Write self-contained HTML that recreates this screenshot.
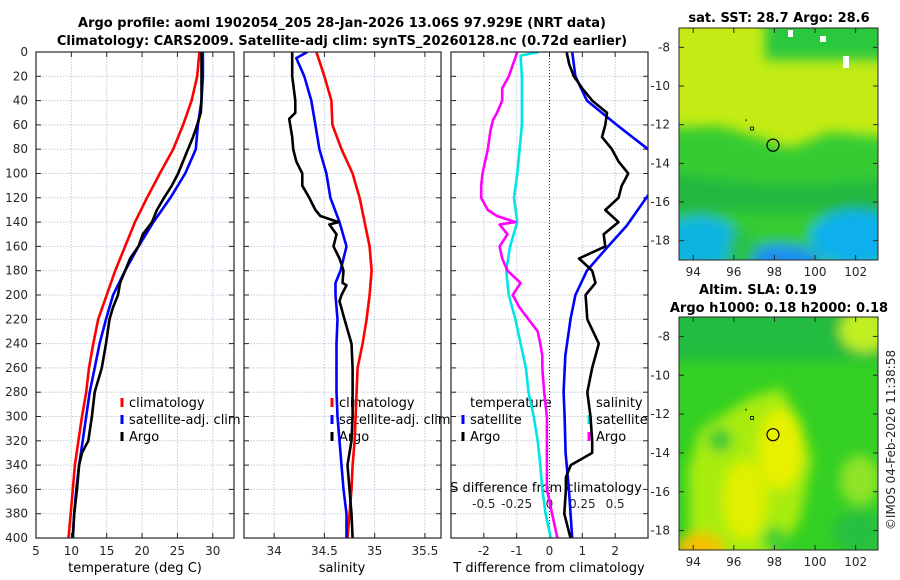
<!DOCTYPE html>
<html><head><meta charset="utf-8">
<style>
html,body{margin:0;padding:0;background:#fff;}
svg{display:block;font-family:"DejaVu Sans","Liberation Sans",sans-serif;}
.t{font-size:12px;fill:#262626;}
.ti{font-size:13px;font-weight:bold;fill:#000;}
.lg{font-size:13px;fill:#000;}
</style></head>
<body>
<svg id="s" width="900" height="580" viewBox="0 0 900 580" xmlns="http://www.w3.org/2000/svg">
<defs>
<clipPath id="c1"><rect x="36" y="52" width="198" height="486"/></clipPath>
<clipPath id="c2"><rect x="244" y="52" width="197" height="486"/></clipPath>
<clipPath id="c3"><rect x="451" y="52" width="197" height="486"/></clipPath>
<clipPath id="cm1"><rect x="679" y="28" width="199" height="232"/></clipPath>
<clipPath id="cm2"><rect x="679" y="317" width="199" height="233"/></clipPath>
<filter id="bl" filterUnits="userSpaceOnUse" x="600" y="0" width="300" height="580"><feGaussianBlur stdDeviation="6"/></filter>
</defs>
<text class="ti" x="342" y="27" text-anchor="middle">Argo profile: aoml 1902054_205 28-Jan-2026 13.06S 97.929E (NRT data)</text>
<text class="ti" x="342" y="45" text-anchor="middle">Climatology: CARS2009. Satellite-adj clim: synTS_20260128.nc (0.72d earlier)</text>

<!-- SST map -->
<g>
<rect x="679" y="28" width="199" height="232" fill="#c4ec14"/>
<g clip-path="url(#cm1)">
<g filter="url(#bl)">
<rect x="765" y="15" width="130" height="45" fill="#2cc83c"/>
<path d="M660 128 L720 126 L760 138 L790 148 L830 132 L895 138 L895 275 L660 275 Z" fill="#34cc30"/>
<path d="M660 172 L740 182 L800 186 L895 178 L895 212 L660 212 Z" fill="#22b840"/>
<ellipse cx="700" cy="242" rx="40" ry="26" fill="#10b4e0"/>
<ellipse cx="855" cy="238" rx="45" ry="28" fill="#10b0ec"/>
<ellipse cx="780" cy="262" rx="40" ry="18" fill="#1a90f0"/>
<ellipse cx="742" cy="250" rx="14" ry="22" fill="#2cc048"/>
</g>
</g>
<rect x="788" y="30" width="5" height="7" fill="#fff"/><rect x="820" y="36" width="6" height="6" fill="#fff"/><rect x="843" y="56" width="6" height="12" fill="#fff"/>
<rect x="679" y="28" width="199" height="232" fill="none" stroke="#262626" stroke-width="1"/>
</g>
<text class="ti" x="779" y="22" text-anchor="middle">sat. SST: 28.7 Argo: 28.6</text>

<!-- SLA map -->
<g>
<rect x="679" y="317" width="199" height="233" fill="#34d024"/>
<g clip-path="url(#cm2)">
<g filter="url(#bl)">
<rect x="660" y="300" width="240" height="60" fill="#22bc40"/>
<ellipse cx="865" cy="330" rx="25" ry="22" fill="#c0f020"/>
<path d="M700 430 L750 398 L780 388 L800 420 L812 460 L800 520 L770 565 L690 565 L688 470 Z" fill="#a8ec10"/>
<ellipse cx="780" cy="450" rx="22" ry="40" fill="#e8f000"/>
<ellipse cx="745" cy="500" rx="22" ry="40" fill="#e0f000"/>
<ellipse cx="720" cy="440" rx="12" ry="12" fill="#30c830"/>
<ellipse cx="700" cy="548" rx="24" ry="15" fill="#f4c000"/>
<ellipse cx="860" cy="480" rx="20" ry="25" fill="#90e428"/>
<ellipse cx="860" cy="532" rx="28" ry="22" fill="#28c040"/>
<ellipse cx="775" cy="540" rx="12" ry="14" fill="#40d030"/>
</g>
</g>
<rect x="679" y="317" width="199" height="233" fill="none" stroke="#262626" stroke-width="1"/>
</g>
<text class="ti" x="758" y="294" text-anchor="middle">Altim. SLA: 0.19</text>
<text class="ti" x="779" y="312" text-anchor="middle">Argo h1000: 0.18 h2000: 0.18</text>
<text class="t" transform="translate(895,440) rotate(-90)" text-anchor="middle">©IMOS 04-Feb-2026 11:38:58</text>
</svg>
<script>
// ---------- data ----------
const depthTicks = [0,20,40,60,80,100,120,140,160,180,200,220,240,260,280,300,320,340,360,380,400];
const tempTicks = [5,10,15,20,25,30];
const salTicks = [34,34.5,35,35.5];
const tdiffTicks = [-2,-1,0,1,2];
const sdiffTicks = [-0.5,-0.25,0,0.25,0.5];
const sdiffTickLabels = ["-0.5","-0.25","0","0.25","0.5"];

const climDepths = [0,20,40,60,80,100,120,140,160,180,200,220,240,260,280,300,320,340,360,380,400];
const tempClim = [28.1,27.8,27.0,25.8,24.4,22.5,20.7,19.0,17.6,16.2,15.0,13.8,13.1,12.5,12.1,11.5,11.0,10.5,10.2,9.9,9.6];
const tempSat = [28.6,28.6,28.4,27.9,27.6,26.1,24.0,21.6,19.5,17.6,15.9,14.9,14.0,13.3,12.6,12.1,11.6,11.1,10.7,10.4,10.2];
const argoTempDepths = [0,20,40,50,60,70,80,100,110,120,130,140,150,160,170,180,190,200,210,220,240,260,270,280,300,320,330,340,360,380,400];
const argoTemp = [28.4,28.4,28.4,28.3,27.8,27.2,26.5,25.1,24.2,23.1,22.1,21.4,20.1,19.5,18.3,17.6,16.9,16.6,15.9,15.4,14.9,14.3,13.8,13.3,12.9,12.4,11.5,11.1,10.8,10.4,10.2];

const salClim = [34.42,34.50,34.57,34.58,34.67,34.78,34.85,34.90,34.95,34.97,34.95,34.92,34.88,34.83,34.82,34.81,34.80,34.78,34.77,34.75,34.73];
const salSatDepths = [0,5,20,40,60,80,100,120,140,160,180,190,200,220,240,260,280,300,320,340,360,380,400];
const salSat = [34.33,34.22,34.30,34.37,34.41,34.45,34.52,34.56,34.65,34.72,34.66,34.61,34.61,34.63,34.62,34.62,34.62,34.63,34.65,34.67,34.69,34.72,34.72];
const argoSalDepths = [0,20,40,50,55,70,80,90,100,110,120,130,135,140,142,150,160,170,180,190,192,200,205,220,240,260,280,300,320,340,360,380,400];
const argoSal = [34.18,34.18,34.21,34.21,34.15,34.18,34.19,34.22,34.28,34.28,34.35,34.41,34.46,34.64,34.55,34.62,34.59,34.65,34.69,34.68,34.72,34.67,34.65,34.70,34.77,34.78,34.78,34.78,34.77,34.73,34.75,34.77,34.78];

const tdiffSatDepths = [0,20,40,60,80,90,100,110,118,143,161,180,200,220,250,280,300,330,360,400];
const tdiffSat = [0.69,0.79,1.14,2.05,3.0,3.5,3.6,3.3,3.0,2.35,1.75,1.14,0.79,0.64,0.48,0.43,0.46,0.49,0.59,0.69];
const tdiffArgoDepths = [0,10,20,30,40,50,60,70,80,90,100,110,120,130,140,150,160,170,180,190,200,220,240,260,280,300,320,330,340,350,360,380,400];
const tdiffArgo = [0.52,0.6,0.74,1.0,1.3,1.75,1.7,1.6,1.9,2.1,2.4,2.2,2.1,1.7,2.1,1.65,1.7,0.9,1.3,1.4,1.1,1.15,1.5,1.3,1.15,1.25,1.3,1.3,0.65,0.5,0.5,0.45,0.64];
const sdiffSatDepths = [0,3,20,60,100,120,140,160,180,200,220,240,260,280,300,320,340,360,380,400];
const sdiffSat = [-0.08,-0.22,-0.21,-0.21,-0.245,-0.27,-0.245,-0.30,-0.33,-0.31,-0.26,-0.22,-0.18,-0.16,-0.12,-0.09,-0.07,-0.055,-0.03,0.01];
const sdiffArgoDepths = [0,20,30,40,50,56,65,80,100,110,120,130,135,140,142,150,160,170,180,190,200,210,220,230,240,250,260,280,300,320,340,360,380,400];
const sdiffArgo = [-0.245,-0.31,-0.36,-0.36,-0.40,-0.43,-0.45,-0.47,-0.51,-0.52,-0.52,-0.47,-0.40,-0.26,-0.38,-0.32,-0.38,-0.36,-0.32,-0.22,-0.28,-0.23,-0.16,-0.09,-0.07,-0.055,-0.055,-0.04,-0.02,-0.02,-0.02,-0.02,0.02,0.06];

const latTicks = [-8,-10,-12,-14,-16,-18];
const lonTicks = [94,96,98,100,102];
const argoLon = 97.929, argoLat = -13.06;

// ---------- helpers ----------
const NS = "http://www.w3.org/2000/svg";
const svg = document.getElementById('s');
function mk(tag, attrs, parent){ const e=document.createElementNS(NS,tag); for(const k in attrs) e.setAttribute(k,attrs[k]); (parent||svg).appendChild(e); return e; }
const Y0=52, Y1=538;
const yS = d => Y0 + (d/400)*(Y1-Y0);
function lin(d0,d1,r0,r1){ return v => r0 + (v-d0)/(d1-d0)*(r1-r0); }
const P = {
  p1:{x0:36,x1:234},
  p2:{x0:244,x1:441},
  p3:{x0:451,x1:648}
};
const xT = lin(5,33,36,234), xS = lin(33.7,35.66,244,441), xTd = lin(-3,3,451,648), xSd = lin(-0.75,0.75,451,648);

function panel(p, name, xticks, xscale, ylabels){
  const g = mk('g',{});
  
  
  depthTicks.forEach(d=>{
    const y=yS(d);
    const gl = mk('line',{x1:p.x0,x2:p.x1,y1:y,y2:y,stroke:'#c4c8dc','stroke-width':1,'stroke-dasharray':'1.5,1.5'},g);
    
    
    mk('line',{x1:p.x0,x2:p.x0+5,y1:y,y2:y,stroke:'#262626'},g);
    mk('line',{x1:p.x1-5,x2:p.x1,y1:y,y2:y,stroke:'#262626'},g);
    if(ylabels){ const t=mk('text',{x:28,y:y+4,'text-anchor':'end','class':'t'},g); t.textContent=d;
        }
  });
  xticks.forEach(v=>{
    const x=xscale(v);
    const gl = mk('line',{x1:x,x2:x,y1:Y0,y2:Y1,stroke:'#c4c8dc','stroke-width':1,'stroke-dasharray':'1.5,1.5'},g);
    
    
    mk('line',{x1:x,x2:x,y1:Y1-5,y2:Y1,stroke:'#262626'},g);
    mk('line',{x1:x,x2:x,y1:Y0,y2:Y0+5,stroke:'#262626'},g);
    const t=mk('text',{x:x,y:555,'text-anchor':'middle','class':'t'},g); t.textContent=v;
     
  });
  return g;
}
function line(depths, vals, xs, color, clip, name, w){
  const d = depths.map((z,i)=>(i?'L':'M')+xs(vals[i]).toFixed(1)+' '+yS(z).toFixed(1)).join(' ');
  const e = mk('path',{d:d,fill:'none',stroke:color,'stroke-width':w||2.6,'stroke-linejoin':'round','clip-path':'url(#'+clip+')'});
  
  
}
function legend(x,y,color,label,name){
  mk('line',{x1:x,x2:x,y1:y-9,y2:y,stroke:color,'stroke-width':3});
  const t=mk('text',{x:x+7,y:y,'class':'lg'}); t.textContent=label;
  
  
}
function frame(p){ mk('rect',{x:p.x0,y:Y0,width:p.x1-p.x0,height:Y1-Y0,fill:'none',stroke:'#262626','stroke-width':1.2}); }
function axlabel(x,y,txt,name){ const t=mk('text',{x:x,y:y,'text-anchor':'middle','class':'lg'}); t.textContent=txt;
  
   }

// Panel 1: temperature
panel(P.p1,'temperature-panel',tempTicks,xT,true);
legend(122,407,'#ff0000','climatology','legend-climatology');
legend(122,424,'#0000ff','satellite-adj. clim','legend-satellite-adj');
legend(122,441,'#000000','Argo','legend-argo');
line(climDepths,tempClim,xT,'#ff0000','c1','temp-climatology-line');
line(climDepths,tempSat,xT,'#0000ff','c1','temp-satellite-line');
line(argoTempDepths,argoTemp,xT,'#000000','c1','temp-argo-line');
frame(P.p1);
axlabel(135,572,'temperature (deg C)','temperature-axis-title');

// Panel 2: salinity
panel(P.p2,'salinity-panel',salTicks,xS,false);
legend(332,407,'#ff0000','climatology','legend-climatology-sal');
legend(332,424,'#0000ff','satellite-adj. clim','legend-satellite-adj-sal');
legend(332,441,'#000000','Argo','legend-argo-sal');
line(climDepths,salClim,xS,'#ff0000','c2','sal-climatology-line');
line(salSatDepths,salSat,xS,'#0000ff','c2','sal-satellite-line');
line(argoSalDepths,argoSal,xS,'#000000','c2','sal-argo-line');
frame(P.p2);
axlabel(342,572,'salinity','salinity-axis-title');

// Panel 3: differences
panel(P.p3,'difference-panel',tdiffTicks,xTd,false);
const zl = mk('line',{x1:xTd(0),x2:xTd(0),y1:Y0,y2:Y1,stroke:'#333','stroke-width':1,'stroke-dasharray':'1,2'});
 
let tt=mk('text',{x:470,y:407,'class':'lg'}); tt.textContent='temperature';
 
tt=mk('text',{x:596,y:407,'class':'lg'}); tt.textContent='salinity';
 
legend(463,424,'#0000ff','satellite','legend-temp-satellite');
legend(463,441,'#000000','Argo','legend-temp-argo');
legend(589,424,'#00e5e5','satellite','legend-sal-satellite');
legend(589,441,'#ff00ff','Argo','legend-sal-argo');
axlabel(546,492,'S difference from climatology','sdiff-axis-title');
sdiffTicks.forEach((v,i)=>{ const t=mk('text',{x:xSd(v),y:508,'text-anchor':'middle','class':'t'}); t.textContent=sdiffTickLabels[i];
    });
line(sdiffSatDepths,sdiffSat,xSd,'#00e5e5','c3','sdiff-satellite-line');
line(sdiffArgoDepths,sdiffArgo,xSd,'#ff00ff','c3','sdiff-argo-line');
line(tdiffSatDepths,tdiffSat,xTd,'#0000ff','c3','tdiff-satellite-line');
line(tdiffArgoDepths,tdiffArgo,xTd,'#000000','c3','tdiff-argo-line');
frame(P.p3);
axlabel(549,572,'T difference from climatology','tdiff-axis-title');

// Maps axes
const lonX = lin(93.3,103.1,679,878);
[[28,260,'sst'],[317,550,'sla']].forEach(([t,b,n])=>{
  const latY = lin(-7,-19,t,b);
  latTicks.forEach(v=>{ const y=latY(v);
    mk('line',{x1:679,x2:684,y1:y,y2:y,stroke:'#262626'}); mk('line',{x1:873,x2:878,y1:y,y2:y,stroke:'#262626'});
    const tx=mk('text',{x:670,y:y+4,'text-anchor':'end','class':'t'}); tx.textContent=v;
      });
  lonTicks.forEach(v=>{ const x=lonX(v);
    mk('line',{x1:x,x2:x,y1:b-5,y2:b,stroke:'#262626'}); mk('line',{x1:x,x2:x,y1:t,y2:t+5,stroke:'#262626'});
    const tx=mk('text',{x:x,y:b+16,'text-anchor':'middle','class':'t'}); tx.textContent=v;
      });
  const c=mk('circle',{cx:lonX(argoLon),cy:latY(argoLat),r:6,fill:'none',stroke:'#000','stroke-width':1.2});
   
  mk('rect',{x:lonX(96.6)-0.5,y:latY(-11.8)-1.5,width:1,height:2,fill:'#000'});
  mk('rect',{x:lonX(96.9)-1.5,y:latY(-12.2)-1.5,width:3,height:3,fill:'none',stroke:'#000','stroke-width':0.8});
});
</script>
</body></html>
